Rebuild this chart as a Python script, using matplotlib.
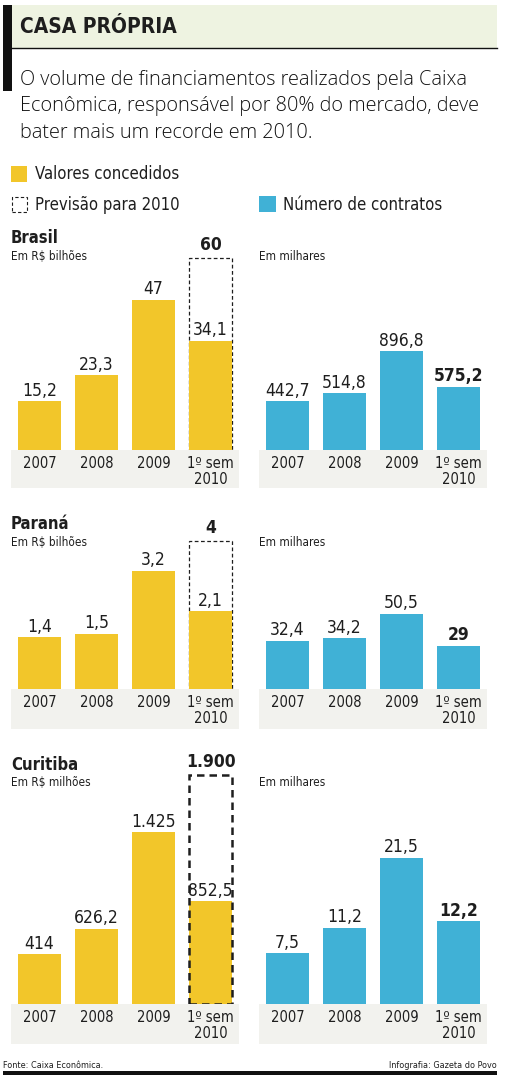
#!/usr/bin/env python3

import matplotlib
matplotlib.use("Agg")
import matplotlib.pyplot as plt
from matplotlib.patches import Rectangle

# data
periods = ["2007", "2008", "2009", "1º sem\n2010"]
regions = ["Brasil", "Paraná", "Curitiba"]
units_valores = ["Em R$ bilhões", "Em R$ bilhões", "Em R$ milhões"]
units_contratos = ["Em milhares", "Em milhares", "Em milhares"]

brasil_valores = [15.2, 23.3, 47, 34.1]
brasil_previsao = 60
brasil_contratos = [442.7, 514.8, 896.8, 575.2]

parana_valores = [1.4, 1.5, 3.2, 2.1]
parana_previsao = 4
parana_contratos = [32.4, 34.2, 50.5, 29]

curitiba_valores = [414, 626.2, 1425, 852.5]
curitiba_previsao = 1900
curitiba_contratos = [7.5, 11.2, 21.5, 12.2]

valores = [brasil_valores, parana_valores, curitiba_valores]
previsoes = [brasil_previsao, parana_previsao, curitiba_previsao]
contratos = [brasil_contratos, parana_contratos, curitiba_contratos]

YELLOW = "#f2c62a"
BLUE = "#40b1d6"
BAND = "#f2f2ee"
TITLE_BG = "#eef3e1"
INK = "#1e1e1e"

W, H = 511, 1085
plt.rcParams["font.family"] = ["DejaVu Sans"]
plt.rcParams["font.stretch"] = "condensed"


def fx(x):
    return x / W


def fy(y):
    return 1 - y / H


def fmt(v):
    if float(v).is_integer():
        return f"{int(v):,}".replace(",", ".")
    return f"{v:.1f}".replace(".", ",")


def box(fig, x0, y0, x1, y1, **kw):
    kw.setdefault("zorder", -1)
    fig.add_artist(Rectangle((fx(x0), fy(y1)), (x1 - x0) / W, (y1 - y0) / H,
                             transform=fig.transFigure, **kw))


def panel(fig, x0, base, height, px_per_unit, vals, color, bold_last=False,
          forecast=None, dash_lw=1.0):
    ax = fig.add_axes([fx(x0), fy(base), 228 / W, height / H])
    ax.set_xlim(-0.5, 3.5)
    ax.set_ylim(0, height / px_per_unit)
    ax.axis("off")
    x = range(len(vals))
    if forecast is not None:
        ax.bar(3, forecast, width=0.77, fill=False, edgecolor=INK,
               linestyle=(0, (3, 2)), linewidth=dash_lw,
               zorder=3 if dash_lw > 1 else 1)
        ax.annotate(fmt(forecast), (3, forecast), xytext=(0, 3),
                    textcoords="offset points", ha="center", va="bottom",
                    fontsize=12.5, fontweight="bold", color=INK)
    ax.bar(x, vals, width=0.77, color=color, zorder=2)
    for i, v in enumerate(vals):
        bold = bold_last and i == len(vals) - 1
        ax.annotate(fmt(v), (i, v), xytext=(0, 1), textcoords="offset points",
                    ha="center", va="bottom", fontsize=12.5, color=INK,
                    fontweight="bold" if bold else "normal", zorder=4)
    for i, p in enumerate(periods):
        ax.annotate(p, (i, 0), xytext=(0, -4.5), textcoords="offset points",
                    ha="center", va="top", fontsize=10.5, color=INK,
                    linespacing=1.1, annotation_clip=False)
    return ax


fig = plt.figure(figsize=(W / 100, H / 100), dpi=100)

# header
box(fig, 12, 5, 497, 48, color=TITLE_BG, lw=0)
box(fig, 3, 5, 12, 91, color="#111111", lw=0)
fig.add_artist(plt.Line2D([fx(12), fx(497)], [fy(48), fy(48)], color="#111111",
                          lw=1, transform=fig.transFigure))
fig.text(fx(20), fy(27), "CASA PRÓPRIA", fontsize=15, fontweight="bold",
         color=INK, va="center")
subtitle = ["O volume de financiamentos realizados pela Caixa",
            "Econômica, responsável por 80% do mercado, deve",
            "bater mais um recorde em 2010."]
for k, line in enumerate(subtitle):
    fig.text(fx(20), fy(80 + 26.5 * k), line, fontsize=14.3, family="Open Sans",
             fontweight="light", fontstretch="normal", color="#111111",
             va="center")

# legend
box(fig, 11, 166, 27, 182, color=YELLOW, lw=0)
fig.text(fx(35), fy(174), "Valores concedidos", fontsize=12, color=INK, va="center")
box(fig, 11.5, 196.5, 26.5, 212, fill=False, edgecolor=INK, lw=0.8,
    linestyle=(0, (3, 2)))
fig.text(fx(35), fy(205), "Previsão para 2010", fontsize=12, color=INK, va="center")
box(fig, 259, 196, 276, 212, color=BLUE, lw=0)
fig.text(fx(283), fy(205), "Número de contratos", fontsize=12, color=INK, va="center")

# sections: baseline, band height, bar area height, scales, header y
bases = [450, 689, 1004]
band_h = [38, 40, 40]
bar_h = [210, 200, 250]
scale_left = [3.2, 37.0, 0.1205]
scale_right = [0.11, 1.49, 6.8]
head_y = [238, 524, 765]
dash_w = [0.9, 0.9, 1.8]

for s in range(3):
    base = bases[s]
    box(fig, 11, base, 239, base + band_h[s], color=BAND, lw=0)
    box(fig, 259, base, 487, base + band_h[s], color=BAND, lw=0)
    panel(fig, 11, base, bar_h[s], scale_left[s], valores[s], YELLOW,
          forecast=previsoes[s], dash_lw=dash_w[s])
    panel(fig, 259, base, bar_h[s], scale_right[s], contratos[s], BLUE,
          bold_last=True)
    fig.text(fx(11), fy(head_y[s]), regions[s], fontsize=12, fontweight="bold",
             color=INK, va="center")
    fig.text(fx(11), fy(head_y[s] + 18), units_valores[s], fontsize=8.5,
             color=INK, va="center")
    fig.text(fx(259), fy(head_y[s] + 18), units_contratos[s], fontsize=8.5,
             color=INK, va="center")

# footer
fig.text(fx(3), fy(1066), "Fonte: Caixa Econômica.", fontsize=6.5, color=INK,
         va="center")
fig.text(fx(497), fy(1066), "Infografia: Gazeta do Povo", fontsize=6.5,
         color=INK, va="center", ha="right")
box(fig, 3, 1071, 497, 1075, color="#111111", lw=0, zorder=1)

fig.savefig("out.png", dpi=100)
